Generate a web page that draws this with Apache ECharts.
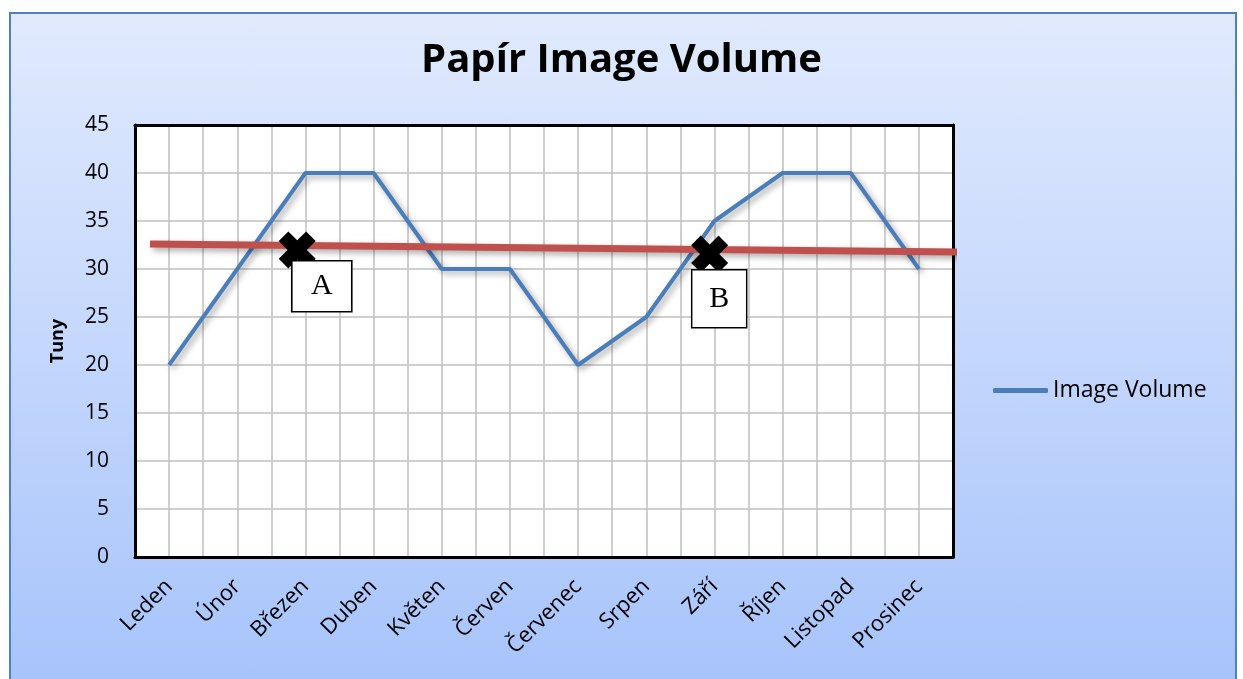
<!DOCTYPE html>
<html>
<head>
<meta charset="utf-8">
<script src="https://cdn.jsdelivr.net/npm/echarts@6/dist/echarts.min.js"></script>
<style>
  body { margin: 0; background: #fff; }
  #box {
    position: absolute; left: 9px; top: 12px; width: 1224px; height: 680px;
    border: 2px solid #4f81bd;
    background: linear-gradient(#e1eafd, #a6c3fb);
  }
  #chart { position: absolute; left: 0; top: 0; width: 1243px; height: 679px; }
</style>
</head>
<body>
<div id="box"></div>
<div id="chart"></div>
<script>
// months and tonnage
const months = ['Leden', 'Únor', 'Březen', 'Duben', 'Květen', 'Červen', 'Červenec', 'Srpen', 'Září', 'Říjen', 'Listopad', 'Prosinec']
const volume = [20, 30, 40, 40, 30, 30, 20, 25, 35, 40, 40, 30]
const yTicks = [0, 45, 5] // min, max, step

// trend line drawn on a hidden 0..12 value axis (one unit = one month)
const trendLine = [[0.22, 32.6], [12.1, 31.77]]
// crosses and the boxes that name them
const crossPoints = [[2.38, 31.98], [8.43, 31.56]]
const boxNames = ['A', 'B']
const boxPoints = [[2.74, 28.2], [8.57, 26.9]]
const boxSizes = [[60, 51], [55, 58]]

const font = 'Open Sans'
const shadow = { shadowColor: 'rgba(0,0,0,0.35)', shadowBlur: 6, shadowOffsetX: 3, shadowOffsetY: 3 }
const crossPath = 'path://M2.6,0 L5,2.4 L7.4,0 L10,2.6 L7.6,5 L10,7.4 L7.4,10 L5,7.6 L2.6,10 L0,7.4 L2.4,5 L0,2.6 Z'
const frame = { show: true, onZero: false, lineStyle: { color: '#000', width: 3 } }
const gridLine = { show: true, lineStyle: { color: '#bfbfbf', width: 1.5 } }

const chart = echarts.init(document.getElementById('chart'))
chart.setOption({
  backgroundColor: 'transparent',
  animation: false,
  textStyle: { fontFamily: font },
  title: {
    text: 'Papír Image Volume',
    left: 'center',
    top: 36,
    textStyle: { fontFamily: font, fontSize: 40, fontWeight: 'bold', color: '#000' }
  },
  legend: {
    data: [{ name: 'Image Volume', icon: 'roundRect' }],
    left: 988,
    top: 374,
    itemWidth: 55,
    itemHeight: 5,
    textStyle: { fontFamily: font, fontSize: 23, color: '#000' }
  },
  grid: {
    left: 135,
    top: 125,
    width: 818,
    height: 432,
    show: true,
    backgroundColor: '#fff',
    borderWidth: 0
  },
  xAxis: [{
    type: 'category',
    data: months,
    axisLine: frame,
    axisTick: { show: false },
    splitLine: { show: false },
    axisLabel: { rotate: 45, margin: 26, fontSize: 22, color: '#000', fontFamily: font, interval: 0 },
    z: 1
  }, {
    type: 'value',
    min: 0,
    max: 12,
    interval: 0.5,
    position: 'top',
    axisLine: frame,
    axisTick: { show: false },
    axisLabel: { show: false },
    splitLine: gridLine,
    z: 1
  }],
  yAxis: [{
    type: 'value',
    min: yTicks[0],
    max: yTicks[1],
    interval: yTicks[2],
    name: 'Tuny',
    nameLocation: 'middle',
    nameRotate: 90,
    nameGap: 68,
    nameTextStyle: { fontFamily: font, fontSize: 18, fontWeight: 'bold', color: '#000' },
    axisLine: frame,
    axisTick: { show: false },
    axisLabel: { fontSize: 21, color: '#000', margin: 26, fontFamily: font },
    splitLine: gridLine,
    z: 1
  }, {
    type: 'value',
    min: yTicks[0],
    max: yTicks[1],
    interval: yTicks[2],
    position: 'right',
    axisLine: frame,
    axisTick: { show: false },
    axisLabel: { show: false },
    splitLine: { show: false },
    z: 1
  }],
  series: [{
    name: 'Image Volume',
    type: 'line',
    data: volume,
    symbol: 'none',
    color: '#4a7ebb',
    lineStyle: Object.assign({ color: '#4a7ebb', width: 4 }, shadow),
    z: 3
  }, {
    name: 'trend',
    type: 'line',
    xAxisIndex: 1,
    data: trendLine,
    symbol: 'none',
    clip: false,
    lineStyle: Object.assign({ color: '#c0504d', width: 7 }, shadow),
    z: 4
  }, {
    name: 'cross',
    type: 'scatter',
    xAxisIndex: 1,
    data: crossPoints,
    symbol: crossPath,
    symbolSize: 37,
    itemStyle: { color: '#000', opacity: 1 },
    z: 5
  }, {
    name: 'box',
    type: 'scatter',
    xAxisIndex: 1,
    data: boxPoints.map((p, i) => ({ value: p, name: boxNames[i], symbolSize: boxSizes[i] })),
    symbol: 'rect',
    itemStyle: { color: '#fff', borderColor: '#000', borderWidth: 1.5, opacity: 1 },
    label: {
      show: true,
      position: 'inside',
      formatter: '{b}',
      fontFamily: 'Liberation Serif',
      fontSize: 30,
      color: '#000'
    },
    z: 6
  }]
})
</script>
</body>
</html>
